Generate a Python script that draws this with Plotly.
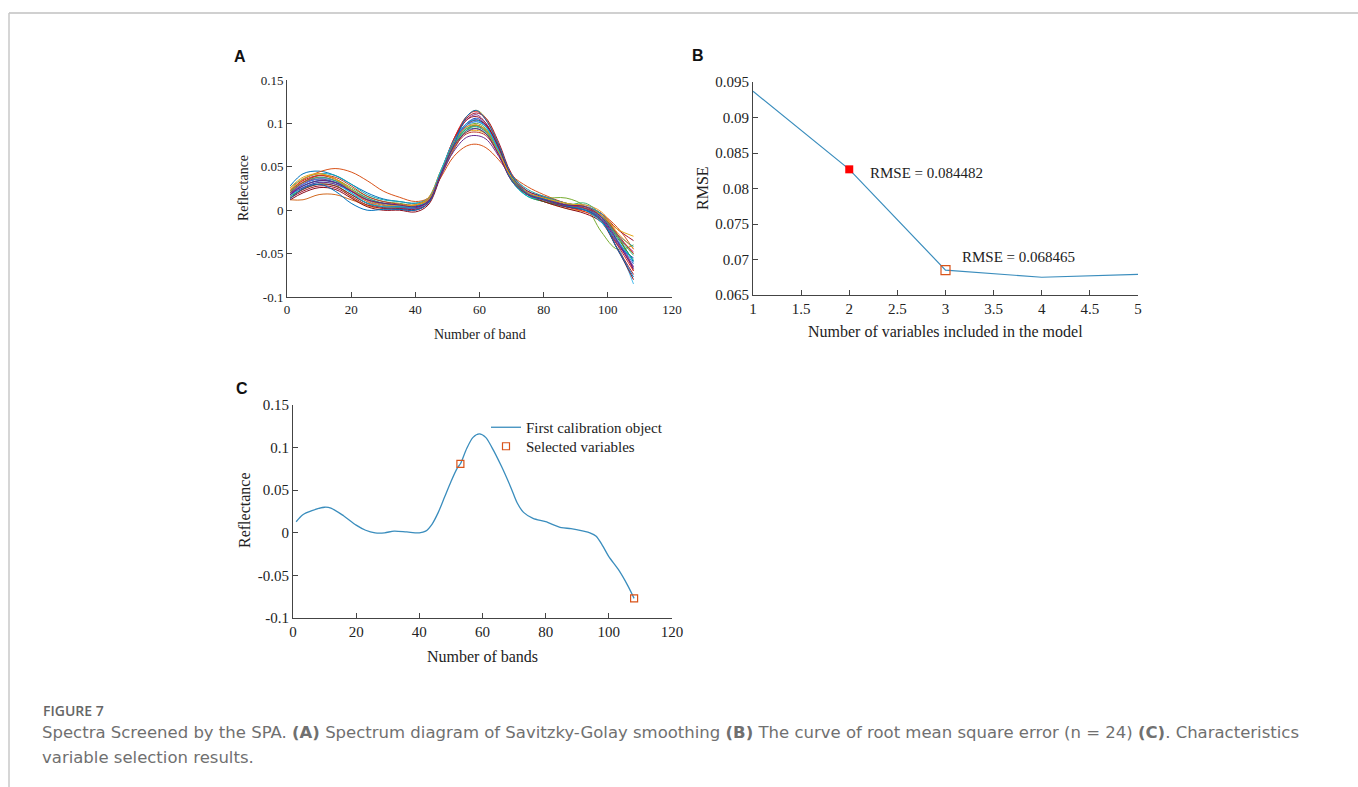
import plotly.graph_objects as go

W, H = 1358, 787

# ---------------- Panel A data (Savitzky-Golay smoothed spectra, n = 24) ----------------
bands_a = [1, 5, 10, 15, 20, 25, 30, 35, 40, 44, 48, 52, 56, 59, 62, 66, 70, 75, 80, 87, 93, 98, 103, 108]
spec_01 = [0.028, 0.042, 0.045, 0.040, 0.030, 0.020, 0.013, 0.010, 0.008, 0.012, 0.040, 0.070, 0.092, 0.097, 0.090, 0.066, 0.038, 0.022, 0.015, 0.006, 0.002, -0.008, -0.030, -0.060]
spec_02 = [0.022, 0.035, 0.044, 0.048, 0.044, 0.034, 0.022, 0.015, 0.010, 0.014, 0.038, 0.062, 0.074, 0.076, 0.072, 0.058, 0.040, 0.027, 0.018, 0.008, 0.004, -0.004, -0.020, -0.045]
spec_03 = [0.012, 0.012, 0.018, 0.018, 0.012, 0.006, 0.004, 0.003, 0.003, 0.010, 0.040, 0.070, 0.092, 0.098, 0.092, 0.068, 0.036, 0.018, 0.010, 0.004, 0.000, -0.006, -0.028, -0.070]
spec_04 = [0.024, 0.032, 0.036, 0.030, 0.015, 0.005, 0.002, 0.003, 0.004, 0.010, 0.042, 0.078, 0.108, 0.115, 0.106, 0.076, 0.040, 0.018, 0.010, 0.002, -0.002, -0.010, -0.030, -0.050]
spec_05 = [0.018, 0.030, 0.036, 0.032, 0.022, 0.012, 0.008, 0.006, 0.004, 0.012, 0.045, 0.080, 0.104, 0.110, 0.100, 0.070, 0.038, 0.020, 0.012, 0.006, 0.002, -0.006, -0.035, -0.065]
spec_06 = [0.020, 0.032, 0.040, 0.036, 0.026, 0.016, 0.010, 0.008, 0.006, 0.014, 0.046, 0.076, 0.096, 0.100, 0.094, 0.068, 0.036, 0.018, 0.014, 0.014, 0.004, -0.025, -0.045, -0.040]
spec_07 = [0.016, 0.026, 0.032, 0.030, 0.020, 0.010, 0.006, 0.005, 0.004, 0.012, 0.044, 0.076, 0.096, 0.102, 0.096, 0.068, 0.034, 0.016, 0.010, 0.004, 0.006, -0.008, -0.040, -0.085]
spec_08 = [0.014, 0.022, 0.028, 0.026, 0.016, 0.006, 0.002, 0.001, 0.000, 0.008, 0.044, 0.082, 0.106, 0.112, 0.106, 0.078, 0.042, 0.022, 0.016, 0.008, 0.004, -0.004, -0.022, -0.035]
spec_09 = [0.020, 0.028, 0.034, 0.032, 0.024, 0.014, 0.008, 0.006, 0.005, 0.012, 0.044, 0.078, 0.100, 0.106, 0.098, 0.070, 0.036, 0.018, 0.012, 0.006, 0.002, -0.010, -0.040, -0.055]
spec_10 = [0.022, 0.034, 0.040, 0.036, 0.024, 0.012, 0.006, 0.004, 0.003, 0.010, 0.044, 0.082, 0.108, 0.114, 0.104, 0.074, 0.040, 0.020, 0.014, 0.004, -0.002, -0.012, -0.040, -0.070]
spec_11 = [0.016, 0.024, 0.030, 0.028, 0.018, 0.008, 0.004, 0.003, 0.002, 0.010, 0.042, 0.074, 0.094, 0.098, 0.092, 0.066, 0.034, 0.016, 0.010, 0.004, 0.000, -0.008, -0.032, -0.058]
spec_12 = [0.018, 0.030, 0.038, 0.034, 0.022, 0.010, 0.004, 0.002, 0.002, 0.010, 0.044, 0.078, 0.100, 0.104, 0.098, 0.072, 0.038, 0.018, 0.012, 0.006, 0.004, -0.004, -0.030, -0.048]
spec_13 = [0.026, 0.036, 0.042, 0.040, 0.030, 0.018, 0.012, 0.010, 0.008, 0.014, 0.044, 0.074, 0.092, 0.094, 0.088, 0.066, 0.040, 0.024, 0.016, 0.008, 0.004, -0.004, -0.028, -0.042]
spec_14 = [0.012, 0.020, 0.026, 0.024, 0.014, 0.004, 0.000, 0.000, -0.002, 0.006, 0.040, 0.076, 0.098, 0.104, 0.098, 0.072, 0.038, 0.018, 0.010, 0.002, -0.004, -0.014, -0.045, -0.080]
spec_15 = [0.020, 0.030, 0.036, 0.034, 0.024, 0.012, 0.006, 0.004, 0.002, 0.010, 0.042, 0.076, 0.098, 0.102, 0.096, 0.070, 0.036, 0.018, 0.012, 0.004, 0.000, -0.008, -0.034, -0.062]
spec_16 = [0.024, 0.036, 0.042, 0.036, 0.022, 0.010, 0.004, 0.004, 0.006, 0.014, 0.046, 0.078, 0.096, 0.098, 0.092, 0.068, 0.036, 0.018, 0.012, 0.006, 0.006, -0.002, -0.026, -0.044]
spec_17 = [0.018, 0.026, 0.032, 0.030, 0.022, 0.012, 0.006, 0.004, 0.003, 0.010, 0.040, 0.068, 0.084, 0.086, 0.082, 0.062, 0.036, 0.020, 0.012, 0.004, 0.000, -0.010, -0.038, -0.066]
spec_18 = [0.014, 0.024, 0.030, 0.028, 0.018, 0.008, 0.003, 0.002, 0.001, 0.008, 0.042, 0.080, 0.104, 0.108, 0.100, 0.072, 0.038, 0.018, 0.012, 0.004, 0.000, -0.012, -0.044, -0.074]
spec_19 = [0.022, 0.032, 0.038, 0.034, 0.024, 0.014, 0.008, 0.006, 0.004, 0.012, 0.044, 0.076, 0.094, 0.096, 0.090, 0.066, 0.036, 0.018, 0.012, 0.006, 0.008, -0.006, -0.030, -0.052]
spec_20 = [0.016, 0.028, 0.034, 0.032, 0.020, 0.008, 0.004, 0.004, 0.004, 0.012, 0.046, 0.080, 0.100, 0.104, 0.096, 0.068, 0.034, 0.016, 0.012, 0.006, 0.000, -0.014, -0.036, -0.058]
spec_21 = [0.020, 0.032, 0.040, 0.038, 0.028, 0.016, 0.010, 0.007, 0.006, 0.012, 0.042, 0.072, 0.088, 0.090, 0.086, 0.064, 0.038, 0.020, 0.014, 0.006, 0.002, -0.006, -0.028, -0.050]
spec_22 = [0.026, 0.038, 0.042, 0.036, 0.024, 0.012, 0.006, 0.006, 0.006, 0.012, 0.042, 0.074, 0.090, 0.092, 0.088, 0.066, 0.038, 0.020, 0.014, 0.008, 0.004, -0.006, -0.022, -0.030]
spec_23 = [0.013, 0.025, 0.030, 0.022, 0.008, 0.000, 0.001, 0.001, 0.000, 0.008, 0.042, 0.075, 0.108, 0.115, 0.104, 0.075, 0.040, 0.019, 0.013, 0.005, 0.000, -0.012, -0.045, -0.077]
spec_24 = [0.018, 0.028, 0.034, 0.032, 0.022, 0.012, 0.008, 0.006, 0.004, 0.010, 0.042, 0.074, 0.090, 0.094, 0.088, 0.064, 0.034, 0.018, 0.012, 0.006, 0.004, -0.008, -0.036, -0.068]
spectra_a = [spec_01, spec_02, spec_03, spec_04, spec_05, spec_06, spec_07, spec_08,
             spec_09, spec_10, spec_11, spec_12, spec_13, spec_14, spec_15, spec_16,
             spec_17, spec_18, spec_19, spec_20, spec_21, spec_22, spec_23, spec_24]
colors_a = ["#0072BD", "#D95319", "#D2691E", "#EDB120", "#7E2F8E", "#77AC30", "#4DBEEE", "#A2142F",
            "#1F3FBF", "#E0201B", "#2CA02C", "#B0209F", "#17A5B0", "#8B0A1A", "#3F7FE0", "#F08C1A",
            "#6A2C91", "#9B1B30", "#3CB371", "#00B5E2", "#C0392B", "#E6A817", "#0072BD", "#6B1E7A"]

# ---------------- Panel B data (RMSE curve) ----------------
n_vars = [1, 2, 3, 4, 5]
rmse = [0.0937, 0.0827, 0.0685, 0.0675, 0.0679]
marked_x = [2]
marked_y = [0.0827]
chosen_x = [3]
chosen_y = [0.0685]
rmse_labels = ["RMSE = 0.084482", "RMSE = 0.068465"]

# ---------------- Panel C data (first calibration object + selected variables) ----------------
bands_c = [1, 3, 6, 10, 12, 16, 20, 23, 26, 29, 32, 36, 40, 42, 44, 46, 48, 50, 52, 53, 55, 57, 59, 61,
           63, 66, 69, 71, 73, 76, 80, 85, 88, 92, 94, 96, 98, 100, 103, 106, 108]
refl_c = [0.013, 0.021, 0.026, 0.030, 0.029, 0.020, 0.009, 0.003, 0.000, 0.000, 0.002, 0.001, 0.000,
          0.002, 0.010, 0.024, 0.042, 0.060, 0.076, 0.081, 0.099, 0.112, 0.116, 0.112, 0.100, 0.078,
          0.053, 0.035, 0.024, 0.017, 0.013, 0.006, 0.005, 0.002, 0.000, -0.004, -0.015, -0.028,
          -0.043, -0.062, -0.077]
sel_bands = [53, 108]
sel_refl = [0.081, -0.077]

refl_ticks = [-0.1, -0.05, 0, 0.05, 0.1, 0.15]
refl_ticktext = ["-0.1", "-0.05", "0", "0.05", "0.1", "0.15"]
band_ticks = [0, 20, 40, 60, 80, 100, 120]
rmse_ticks = [0.065, 0.07, 0.075, 0.08, 0.085, 0.09, 0.095]
rmse_ticktext = ["0.065", "0.07", "0.075", "0.08", "0.085", "0.09", "0.095"]
nvar_ticks = [1, 1.5, 2, 2.5, 3, 3.5, 4, 4.5, 5]
nvar_ticktext = ["1", "1.5", "2", "2.5", "3", "3.5", "4", "4.5", "5"]

SERIF = "Liberation Serif, Times New Roman, serif"
SANS_CAP = "DejaVu Sans, Open Sans, sans-serif"
LINE_BLUE = "#3a8dbd"
ORANGE = "#D95319"

fig = go.Figure()

for spec, col in zip(spectra_a, colors_a):
    fig.add_trace(go.Scatter(x=bands_a, y=spec, mode="lines", line=dict(color=col, width=1, shape="spline", smoothing=1.0),
                             xaxis="x", yaxis="y", showlegend=False, hoverinfo="skip"))

fig.add_trace(go.Scatter(x=n_vars, y=rmse, mode="lines", line=dict(color=LINE_BLUE, width=1.2),
                         xaxis="x2", yaxis="y2", showlegend=False))
fig.add_trace(go.Scatter(x=marked_x, y=marked_y, mode="markers",
                         marker=dict(symbol="square", size=8, color="#FF0000", line=dict(color="#FF0000", width=0)),
                         xaxis="x2", yaxis="y2", showlegend=False))
fig.add_trace(go.Scatter(x=chosen_x, y=chosen_y, mode="markers",
                         marker=dict(symbol="square-open", size=9, color=ORANGE, line=dict(width=1.2)),
                         xaxis="x2", yaxis="y2", showlegend=False))

fig.add_trace(go.Scatter(x=bands_c, y=refl_c, mode="lines", name="First calibration object",
                         line=dict(color=LINE_BLUE, width=1.3, shape="spline", smoothing=0.8),
                         xaxis="x3", yaxis="y3", legend="legend"))
fig.add_trace(go.Scatter(x=sel_bands, y=sel_refl, mode="markers", name="Selected variables",
                         marker=dict(symbol="square-open", size=7, color=ORANGE, line=dict(width=1.2)),
                         xaxis="x3", yaxis="y3", legend="legend2"))


def px_x(p):
    return p / W


def px_y(p):
    return 1 - p / H


axis_common = dict(showline=True, linecolor="#444", linewidth=1, ticks="inside", ticklen=5, tickcolor="#444",
                   showgrid=False, zeroline=False, mirror=False, automargin=False)
legend_common = dict(xanchor="left", yanchor="top", bgcolor="rgba(0,0,0,0)",
                     font=dict(family=SERIF, size=15, color="#222"), itemwidth=30)

fig.update_layout(
    width=W, height=H, margin=dict(l=0, r=0, t=0, b=0),
    paper_bgcolor="white", plot_bgcolor="white",
    xaxis=dict(domain=[px_x(287), px_x(672)], range=[0, 120], tickvals=band_ticks, anchor="y",
               tickfont=dict(family=SERIF, size=13, color="#222"), **axis_common),
    yaxis=dict(domain=[px_y(297), px_y(80)], range=[-0.1, 0.15], tickvals=refl_ticks, ticktext=refl_ticktext, anchor="x",
               tickfont=dict(family=SERIF, size=13, color="#222"), **axis_common),
    xaxis2=dict(domain=[px_x(753), px_x(1138)], range=[1, 5], tickvals=nvar_ticks, ticktext=nvar_ticktext, anchor="y2",
                tickfont=dict(family=SERIF, size=15, color="#222"), **axis_common),
    yaxis2=dict(domain=[px_y(295), px_y(82)], range=[0.065, 0.095], tickvals=rmse_ticks, ticktext=rmse_ticktext, anchor="x2",
                tickfont=dict(family=SERIF, size=15, color="#222"), **axis_common),
    xaxis3=dict(domain=[px_x(293), px_x(672)], range=[0, 120], tickvals=band_ticks, anchor="y3",
                tickfont=dict(family=SERIF, size=15, color="#222"), **axis_common),
    yaxis3=dict(domain=[px_y(618), px_y(405)], range=[-0.1, 0.15], tickvals=refl_ticks, ticktext=refl_ticktext, anchor="x3",
                tickfont=dict(family=SERIF, size=15, color="#222"), **axis_common),
    legend=dict(x=px_x(486), y=px_y(411), **legend_common),
    legend2=dict(x=px_x(486), y=px_y(430), **legend_common),
    showlegend=True,
)

annotations = []
# panel letters
for letter, x, y in [("A", 240, 57), ("B", 698, 56), ("C", 242, 388)]:
    annotations.append(dict(text=f"<b>{letter}</b>", x=px_x(x), y=px_y(y), xref="paper", yref="paper",
                            xanchor="center", yanchor="middle", showarrow=False,
                            font=dict(family="Liberation Sans, Arial, sans-serif", size=16, color="#111")))
# axis titles
for text, x, y, size, rot in [
    ("Number of band", 480, 334, 14, 0),
    ("Reflectance", 244, 188, 14, -90),
    ("Number of variables included in the model", 945, 332, 16, 0),
    ("RMSE", 703, 188, 16, -90),
    ("Number of bands", 482, 656, 16, 0),
    ("Reflectance", 245, 510, 16, -90),
]:
    annotations.append(dict(text=text, x=px_x(x), y=px_y(y), xref="paper", yref="paper",
                            xanchor="center", yanchor="middle", showarrow=False, textangle=rot,
                            font=dict(family=SERIF, size=size, color="#222")))
# RMSE labels (data coords)
annotations.append(dict(text=rmse_labels[0], x=2.195, y=0.0822, xref="x2", yref="y2", xanchor="left",
                        yanchor="middle", showarrow=False, font=dict(family=SERIF, size=15, color="#222")))
annotations.append(dict(text=rmse_labels[1], x=3.15, y=0.07035, xref="x2", yref="y2", xanchor="left",
                        yanchor="middle", showarrow=False, font=dict(family=SERIF, size=15, color="#222")))
# caption
annotations.append(dict(text="FIGURE 7", x=px_x(41), y=px_y(710), xref="paper", yref="paper", xanchor="left",
                        yanchor="middle", showarrow=False,
                        font=dict(family="Open Sans, Noto Sans, sans-serif", size=14, color="#666", weight=600)))
annotations.append(dict(text="Spectra Screened by the SPA. <b>(A)</b> Spectrum diagram of Savitzky-Golay smoothing "
                             "<b>(B)</b> The curve of root mean square error (n = 24) <b>(C)</b>. Characteristics",
                        x=px_x(40), y=px_y(732), xref="paper", yref="paper", xanchor="left", yanchor="middle",
                        showarrow=False, font=dict(family=SANS_CAP, size=16.5, color="#707070")))
annotations.append(dict(text="variable selection results.", x=px_x(40), y=px_y(757), xref="paper", yref="paper",
                        xanchor="left", yanchor="middle", showarrow=False,
                        font=dict(family=SANS_CAP, size=16.5, color="#707070")))
fig.update_layout(annotations=annotations)

# frame lines of the figure box
fig.update_layout(shapes=[
    dict(type="line", xref="paper", yref="paper", x0=px_x(9), x1=1, y0=px_y(13), y1=px_y(13),
         line=dict(color="#d0d0d0", width=2)),
    dict(type="line", xref="paper", yref="paper", x0=px_x(9), x1=px_x(9), y0=px_y(13), y1=0,
         line=dict(color="#c8c8c8", width=1.5)),
])

fig.write_html("out.html")
